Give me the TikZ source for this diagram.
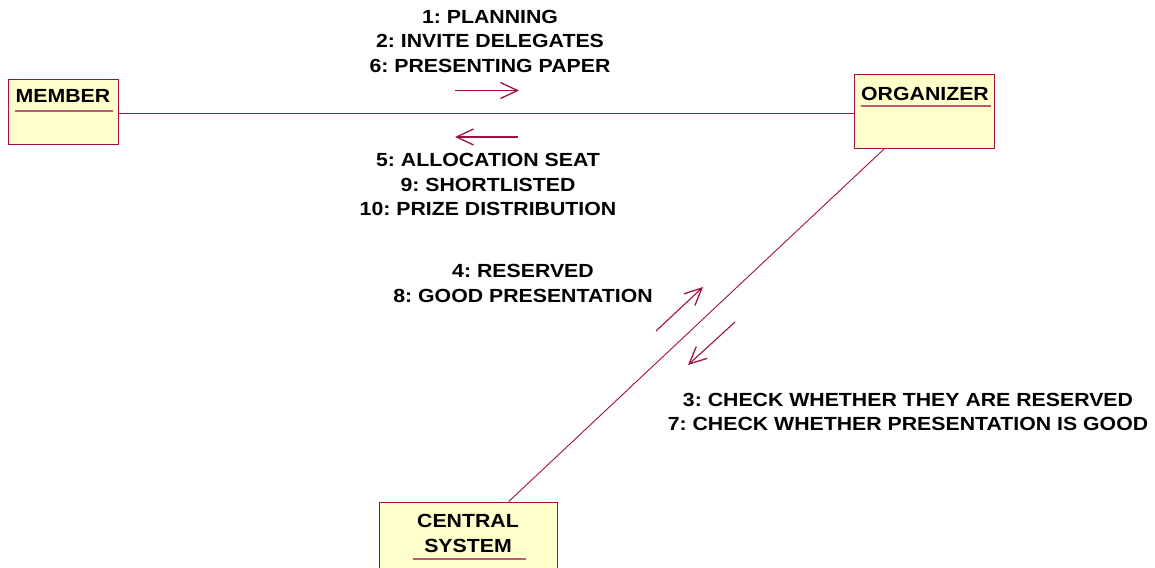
\documentclass[tikz,border=0pt]{standalone}
\usepackage{fontspec}
\setmainfont{Liberation Sans}
\newfontfamily\lblfont[FakeStretch=1.12]{Liberation Sans}
\usetikzlibrary{arrows.meta}
\definecolor{rose}{RGB}{160,16,64}
\definecolor{boxfill}{RGB}{255,255,204}
\begin{document}
\frenchspacing
\begin{tikzpicture}[x=1pt,y=-1pt,
  objbox/.style={draw=rose,fill=boxfill,line width=1pt,rectangle,inner sep=0pt},
  objname/.style={font=\lblfont\bfseries\fontsize{19}{25}\selectfont,align=center,inner sep=0pt},
  msg/.style={font=\lblfont\bfseries\fontsize{19}{24.5}\selectfont,align=center,inner sep=0pt},
  link/.style={draw=rose,line width=0.9pt},
  msgarrow/.style={draw=rose,line width=1.1pt,-{Straight Barb[length=17pt,width=16pt,line width=1.3pt]}},
  uline/.style={draw=rose!70,line width=1.2pt}]
\useasboundingbox (0,0) rectangle (1155,567);
% objects
\node[objbox,minimum width=110pt,minimum height=64pt] (member) at (63,112) {};
\node[objname] (memberT) at (63,96) {MEMBER};
\draw[uline] (15,111) -- (113,111);
\node[objbox,minimum width=140pt,minimum height=73pt] (organizer) at (924,111.5) {};
\node[objname] (organizerT) at (925,94) {ORGANIZER};
\draw[uline] (861,106) -- (991,106);
\node[objbox,minimum width=178pt,minimum height=76pt] (central) at (468,540) {};
\node[objname] (centralT) at (468,533.5) {CENTRAL\\SYSTEM};
\draw[uline] (413,559) -- (526,559);
% links
\draw[link] (member.east |- 0,113) -- (organizer.west |- 0,113);
\draw[link] (organizer) -- (central);
% message arrows
\coordinate (a1s) at (455,90.5); \coordinate (a1e) at (519,90.5);
\coordinate (a2s) at (518,137); \coordinate (a2e) at (455,137);
\coordinate (a3s) at (656,331); \coordinate (a3e) at (703,287);
\coordinate (a4s) at (735,322); \coordinate (a4e) at (688,365);
\draw[msgarrow] (a1s) -- (a1e);
\draw[msgarrow] (a2s) -- (a2e);
\draw[msgarrow] (a3s) -- (a3e);
\draw[msgarrow] (a4s) -- (a4e);
% labels
\node[msg] (m1) at (490,41) {1: PLANNING\\2: INVITE DELEGATES\\6: PRESENTING PAPER};
\node[msg] (m2) at (488,184.5) {5: ALLOCATION SEAT\\9: SHORTLISTED\\10: PRIZE DISTRIBUTION};
\node[msg] (m3) at (523,283.5) {4: RESERVED\\8: GOOD PRESENTATION};
\node[msg] (m4) at (908,412) {3: CHECK WHETHER THEY ARE RESERVED\\7: CHECK WHETHER PRESENTATION IS GOOD};
\end{tikzpicture}
\end{document}
